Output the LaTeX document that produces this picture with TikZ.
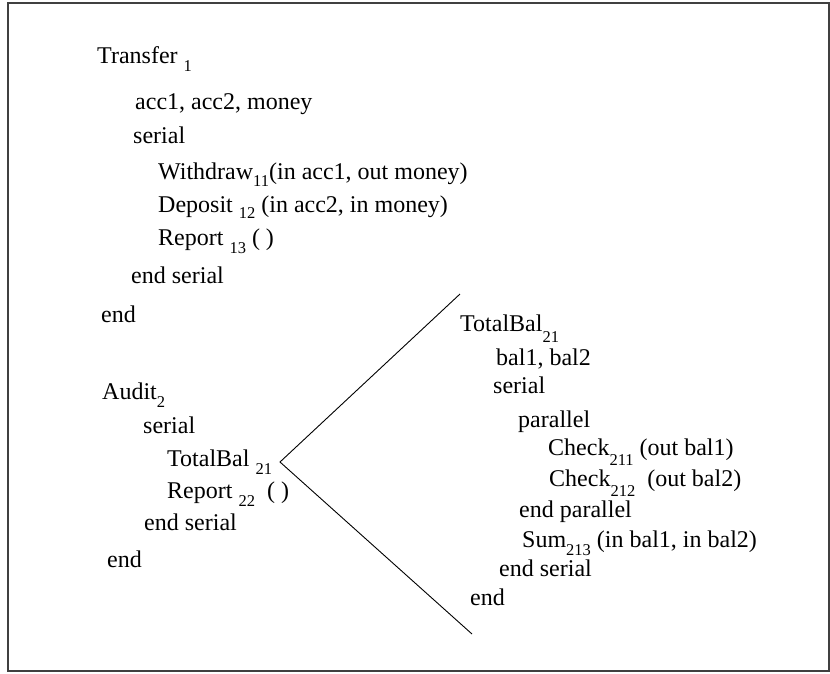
\documentclass[tikz,border=0pt]{standalone}
\usepackage{fontspec}
\setmainfont{Liberation Serif}
\usepackage{tikz}
\usetikzlibrary{positioning}
\newcommand{\ix}[2][8pt]{\raisebox{-#1}{\fontsize{16.5}{16.5}\selectfont #2}}

\begin{document}
\begin{tikzpicture}[x=1pt, y=-1pt,
    every node/.style={anchor=base west, inner sep=0pt, font=\fontsize{24}{28}\selectfont},
    frame/.style={draw=black!75, line width=1.5pt},
    link/.style={draw=black, line width=0.9pt}]
\useasboundingbox (0,0) rectangle (830,673);
\draw[frame] (8,3) rectangle (829,671);
% Transfer
\node (t1)       at (97,63)  {Transfer \ix{1}};
\node (t1vars)   at (135,109) {acc1, acc2, money};
\node (t1ser)    at (133,143) {serial};
\node (w11)      at (158,179) {Withdraw\ix[7pt]{11}(in acc1, out money)};
\node (d12)      at (158,212) {Deposit \ix[6pt]{12} (in acc2, in money)};
\node (r13)      at (158,245) {Report \ix{13} ( )};
\node (t1endser) at (131,283) {end serial};
\node (t1end)    at (101,322) {end};
% Audit
\node (a2)       at (102,399) {Audit\ix{2}};
\node (a2ser)    at (143,433) {serial};
\node (tb21)     at (167,466) {TotalBal \ix{21}};
\node (r22)      at (167,498) {Report \ix{22} ~( )};
\node (a2endser) at (144,530) {end serial};
\node (a2end)    at (107,567) {end};
% TotalBal expanded
\node (tb)       at (460,331) {TotalBal\ix[11pt]{21}};
\node (tbvars)   at (496,365) {bal1, bal2};
\node (tbser)    at (493,393) {serial};
\node (tbpar)    at (518,427) {parallel};
\node (c211)     at (548,455) {Check\ix[10pt]{211} (out bal1)};
\node (c212)     at (549,486) {Check\ix[10pt]{212} ~(out bal2)};
\node (tbendpar) at (519,517) {end parallel};
\node (s213)     at (522,547) {Sum\ix[8pt]{213} (in bal1, in bal2)};
\node (tbendser) at (499,576) {end serial};
\node (tbend)    at (470,605) {end};
\coordinate (tip) at (280,462);
\coordinate (top) at (460,294);
\coordinate (bot) at (472,634);
\draw[link] (top) -- (tip) -- (bot);
\end{tikzpicture}
\end{document}
